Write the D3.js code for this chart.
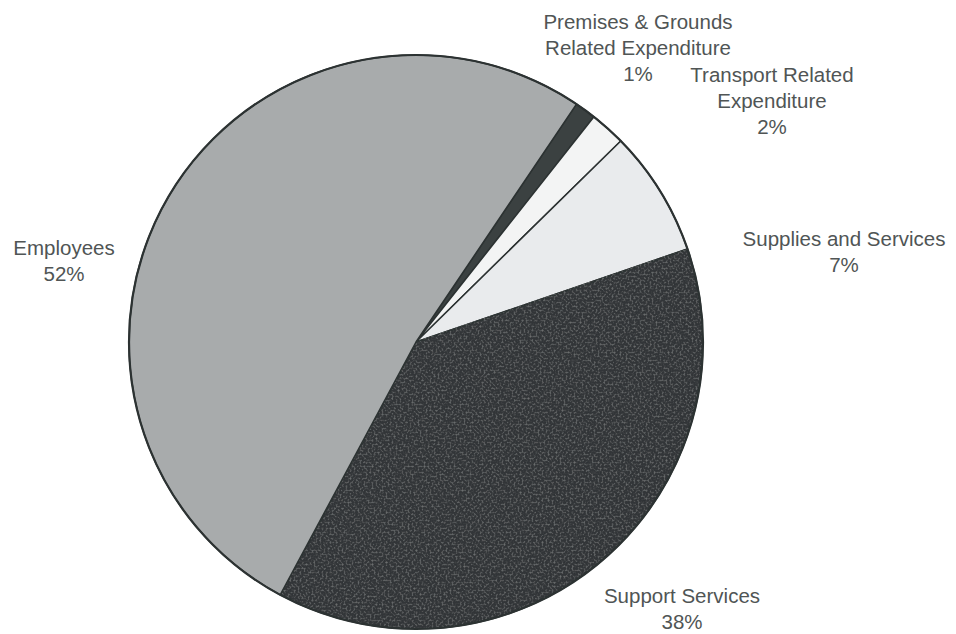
<!DOCTYPE html>
<html>
<head>
<meta charset="utf-8">
<script src="https://cdn.jsdelivr.net/npm/d3@7"></script>
<style>
  html, body { margin: 0; padding: 0; background: #ffffff; }
  svg { display: block; }
</style>
</head>
<body>
<div id="chart"></div>
<script>
// Données (ordre horaire à partir du haut)
const categories = ["Premises & Grounds Related Expenditure", "Transport Related Expenditure", "Supplies and Services", "Support Services", "Employees"];
const values = [1.2, 2.0, 7.1, 38.1, 51.6];
const labelLines = [
  ["Premises & Grounds", "Related Expenditure"],
  ["Transport Related", "Expenditure"],
  ["Supplies and Services"],
  ["Support Services"],
  ["Employees"]
];

// Mise en page
const width = 956;
const height = 634;
const cx = 416;
const cy = 342;
const radius = 287;
const startDeg = 34;
const colors = ["#3b4141", "#f3f4f4", "#e9ebed", "#303637", "#a8abac"];
// position (centre, première ligne de base) des étiquettes
const labelPos = [[638, 29], [772, 82], [844, 246], [682, 603], [64, 255]];
const lineH = 26;

const data = categories.map((c, i) => ({ cat: c, value: values[i], lines: labelLines[i], idx: i }));

const svg = d3.select("#chart")
  .append("svg")
  .attr("width", width)
  .attr("height", height)
  .attr("viewBox", [0, 0, width, height]);

// filtre de grain pour imiter la texture scannée
const defs = svg.append("defs");
const noise = defs.append("filter").attr("id", "grain").attr("x", 0).attr("y", 0).attr("width", 1).attr("height", 1);
noise.append("feTurbulence").attr("type", "fractalNoise").attr("baseFrequency", 0.5).attr("numOctaves", 2).attr("seed", 3).attr("result", "n");
noise.append("feColorMatrix").attr("in", "n").attr("type", "matrix")
  .attr("values", "0 0 0 0 0.55  0 0 0 0 0.57  0 0 0 0 0.57  0 0 0 0.6 -0.28").attr("result", "g");
noise.append("feComposite").attr("in", "g").attr("in2", "SourceGraphic").attr("operator", "in").attr("result", "gm");
noise.append("feMerge").call(m => { m.append("feMergeNode").attr("in", "SourceGraphic"); m.append("feMergeNode").attr("in", "gm"); });

const pie = d3.pie()
  .value(d => d.value)
  .sort(null)
  .startAngle(startDeg * Math.PI / 180)
  .endAngle(startDeg * Math.PI / 180 + 2 * Math.PI);

const arc = d3.arc().innerRadius(0).outerRadius(radius);

const g = svg.append("g").attr("transform", `translate(${cx}, ${cy})`);

g.selectAll("path.slice")
  .data(pie(data))
  .join("path")
  .attr("class", "slice")
  .attr("d", arc)
  .attr("fill", d => colors[d.data.idx])
  .attr("stroke", "#2c3232")
  .attr("stroke-width", 1.5)
  .attr("stroke-linejoin", "round")
  .attr("filter", d => d.data.idx === 3 ? "url(#grain)" : null);

// contour extérieur
g.append("circle")
  .attr("r", radius)
  .attr("fill", "none")
  .attr("stroke", "#2c3232")
  .attr("stroke-width", 2.2);

// Étiquettes
const total = d3.sum(values);
const labels = svg.selectAll("text.lbl")
  .data(data)
  .join("text")
  .attr("class", "lbl")
  .attr("x", d => labelPos[d.idx][0])
  .attr("y", d => labelPos[d.idx][1])
  .attr("text-anchor", "middle")
  .attr("font-family", "'Liberation Sans', Arial, sans-serif")
  .attr("font-size", "20.5px")
  .attr("fill", "#505555");

labels.each(function (d) {
  const t = d3.select(this);
  const lines = d.lines.concat([`${Math.round(d.value / total * 100)}%`]);
  lines.forEach((l, i) => {
    t.append("tspan")
      .attr("x", labelPos[d.idx][0])
      .attr("dy", i === 0 ? 0 : lineH)
      .text(l);
  });
});
</script>
</body>
</html>
